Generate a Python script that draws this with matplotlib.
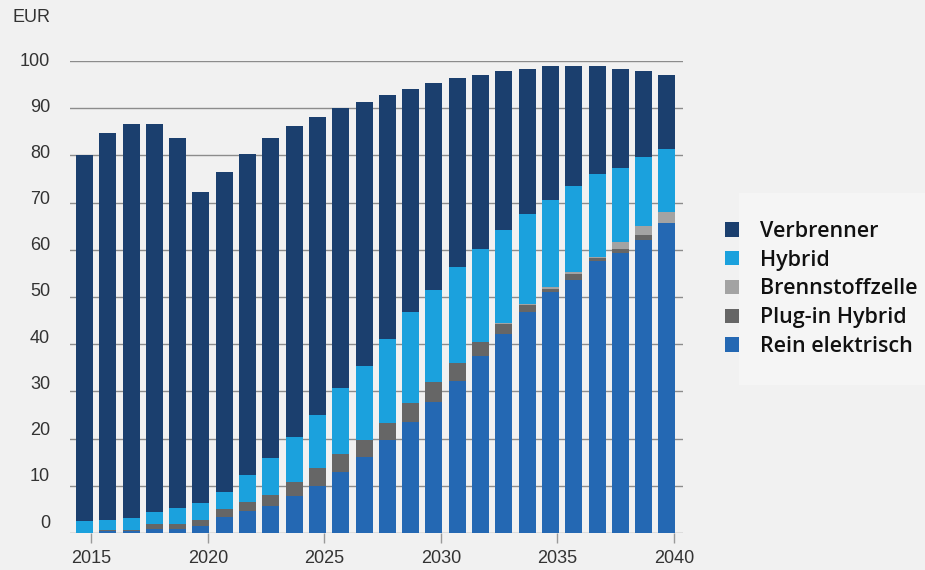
import matplotlib
matplotlib.use("Agg")
import matplotlib.pyplot as plt
from matplotlib.patches import Patch, Rectangle
import numpy as np

years = list(range(2015, 2041))
rein_elektrisch = [0.1, 0.5, 0.5, 0.9, 0.9, 1.5, 3.3, 4.7, 5.7, 7.8, 10.0, 13.0, 16.2,
                   19.7, 23.6, 27.7, 32.1, 37.4, 42.2, 46.9, 51.0, 53.6, 57.6, 59.3, 62.1, 65.6]
plug_in_hybrid = [0.0, 0.1, 0.2, 1.0, 1.0, 1.2, 1.7, 1.9, 2.35, 2.9, 3.8, 3.7, 3.5,
                  3.5, 4.0, 4.2, 3.9, 3.0, 2.0, 1.3, 0.8, 1.2, 0.6, 0.9, 1.1, 0.1]
brennstoffzelle = [0.0, 0.0, 0.0, 0.0, 0.0, 0.0, 0.0, 0.0, 0.0, 0.0, 0.0, 0.0, 0.0,
                   0.0, 0.0, 0.0, 0.0, 0.0, 0.2, 0.3, 0.3, 0.4, 0.3, 1.5, 1.8, 2.4]
hybrid = [2.4, 2.2, 2.5, 2.5, 3.3, 3.6, 3.7, 5.6, 7.75, 9.7, 11.2, 14.0, 15.7,
          18.0, 19.2, 19.6, 20.4, 19.8, 19.8, 19.1, 18.5, 18.3, 17.5, 15.6, 14.7, 13.3]
verbrenner = [77.5, 81.9, 83.5, 82.3, 78.4, 66.0, 67.7, 68.0, 67.8, 65.8, 63.1, 59.3, 56.0,
              51.5, 47.2, 43.8, 40.1, 36.8, 33.7, 30.7, 28.4, 25.5, 23.0, 21.0, 18.2, 15.6]

series_names = ["Rein elektrisch", "Plug-in Hybrid", "Brennstoffzelle", "Hybrid", "Verbrenner"]
series_values = [rein_elektrisch, plug_in_hybrid, brennstoffzelle, hybrid, verbrenner]
colors = ["#2468b3", "#666666", "#a3a3a3", "#1ba1dd", "#1b3f6e"]

y_ticks = [0, 10, 20, 30, 40, 50, 60, 70, 80, 90, 100]
x_tick_years = [2015, 2020, 2025, 2030, 2035, 2040]
unit_label = "EUR"

BG = "#f1f1f1"
fig = plt.figure(figsize=(9.25, 5.7), dpi=100, facecolor=BG)
ax = fig.add_axes([70/925, 1-533/570, 613/925, 472/570])
ax.set_facecolor(BG)

x = np.array(years, dtype=float)
bottom = np.zeros(len(years))
for name, vals, c in zip(series_names, series_values, colors):
    v = np.array(vals)
    ax.bar(x, v, bottom=bottom, width=0.73, color=c, label=name, zorder=2, linewidth=0)
    bottom += v

ax.set_xlim(2014.38, 2040.69)
ax.set_ylim(0, 100)
for s in ax.spines.values():
    s.set_visible(False)
ax.set_axisbelow(True)
for v in y_ticks:
    ax.axhline(v, color="#8c8c8c", lw=1.0, zorder=1)

ax.set_yticks([])
# y labels (slightly compressed spacing as in the reference)
for v in y_ticks:
    off = -(1 - v/100) * 10
    ax.annotate(str(v), xy=(0, v), xycoords=("axes fraction", "data"),
                xytext=(-20, -off), textcoords="offset pixels",
                ha="right", va="center", fontsize=13, color="#333333",
                family="Liberation Sans")

ax.set_xticks([y + 0.3 for y in x_tick_years])
ax.set_xticklabels([str(y) for y in x_tick_years], fontsize=13, color="#333333",
                   family="Liberation Sans")
ax.tick_params(axis="x", length=7, width=1, color="#999999", pad=5, direction="out")

fig.text(50/925, 1-17/570, unit_label, ha="right", va="center", fontsize=13,
         color="#333333", family="Liberation Sans")

# legend box
fig.patches.append(Rectangle((739/925, 1-385/570), (925-739)/925, (385-193)/570,
                             transform=fig.transFigure, facecolor="#f5f5f5",
                             edgecolor="none", zorder=0))
handles = [Patch(facecolor=c, edgecolor="none") for c in colors][::-1]
labels = series_names[::-1]
leg = fig.legend(handles, labels, loc="center left", bbox_to_anchor=(716/925, 1-289/570),
                 frameon=False, handlelength=0.65, handleheight=0.65, handletextpad=1.0,
                 labelspacing=0.36, borderaxespad=0,
                 prop={"family": "Open Sans", "size": 15.5, "weight": "semibold"})
for t in leg.get_texts():
    t.set_color("#111111")

fig.savefig("out.png", dpi=100, facecolor=BG)
